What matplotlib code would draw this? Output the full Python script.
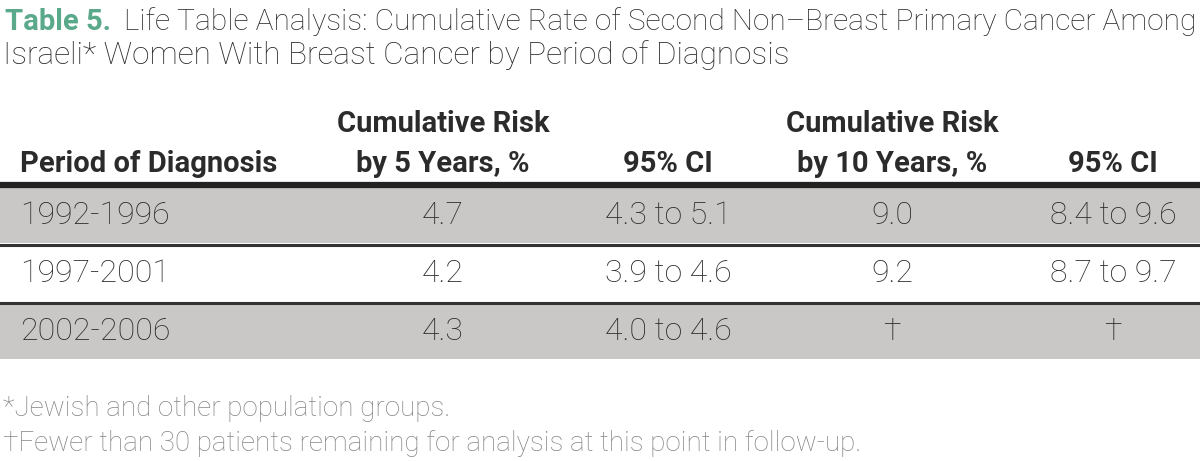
import matplotlib
matplotlib.use("Agg")
import matplotlib.pyplot as plt

# ---- data ----
title_label = "Table 5."
title_line1 = "Life Table Analysis: Cumulative Rate of Second Non\u2013Breast Primary Cancer Among"
title_line2 = "Israeli* Women With Breast Cancer by Period of Diagnosis"
col_headers = ["Period of Diagnosis", "Cumulative Risk\nby 5 Years, %", "95% CI",
               "Cumulative Risk\nby 10 Years, %", "95% CI"]
periods = ["1992-1996", "1997-2001", "2002-2006"]
risk5 = ["4.7", "4.2", "4.3"]
ci5 = ["4.3 to 5.1", "3.9 to 4.6", "4.0 to 4.6"]
risk10 = ["9.0", "9.2", "\u2020"]
ci10 = ["8.4 to 9.6", "8.7 to 9.7", "\u2020"]
footnotes = ["*Jewish and other population groups.",
             "\u2020Fewer than 30 patients remaining for analysis at this point in follow-up."]

plt.rcParams['font.family'] = ['Roboto', 'DejaVu Sans']

W, H = 1200, 461
fig = plt.figure(figsize=(W / 100, H / 100), dpi=100)
ax = fig.add_axes([0, 0, 1, 1])
ax.set_xlim(0, W)
ax.set_ylim(H, 0)
ax.axis('off')

teal = "#5aa98a"
dark = "#2b2b2b"
grey_txt = "#858585"
band = "#c9c8c6"

# title
ax.text(5, 22, title_label, fontsize=21, fontweight='bold', color=teal, va='center', ha='left')
fig.canvas.draw()
r = fig.canvas.get_renderer()
x0 = 124
t1 = ax.text(x0, 22, title_line1, fontsize=22, color=dark, va='center', ha='left', fontweight='light')
w = t1.get_window_extent(r).width
t1.set_fontsize(22 * (1195 - x0) / w)
ax.text(3, 55, title_line2, fontsize=22.7, color=dark, va='center', ha='left', fontweight='light')

# header
col_x = [20, 443, 668, 892, 1113]
col_ha = ['left', 'center', 'center', 'center', 'center']
for x, ha, h in zip(col_x, col_ha, col_headers):
    ax.text(x, 172, h, fontsize=21, fontweight='bold', color=dark, ha=ha, va='baseline',
            linespacing=1.55, multialignment='center')

ax.axhline(185.5, color='#222222', lw=4.5)

row_top = [188, 246, 304]
row_h = 55
row_colors = [band, 'white', band]
for i, (top, c) in enumerate(zip(row_top, row_colors)):
    ax.add_patch(plt.Rectangle((0, top), W, row_h, color=c, lw=0))
    yc = top + row_h / 2
    vals = [periods[i], risk5[i], ci5[i], risk10[i], ci10[i]]
    for x, ha, v in zip(col_x, col_ha, vals):
        ax.text(x, yc, v, fontsize=23, color=dark, ha=ha, va='center', fontweight='light')
for y in [244.5, 302.5]:
    ax.axhline(y, color='#333333', lw=2.2)

ax.text(3, 408, footnotes[0], fontsize=20, color=grey_txt, ha='left', va='center', fontweight='light')
ax.text(3, 443, footnotes[1], fontsize=20, color=grey_txt, ha='left', va='center', fontweight='light')

fig.savefig("out.png", dpi=100)
